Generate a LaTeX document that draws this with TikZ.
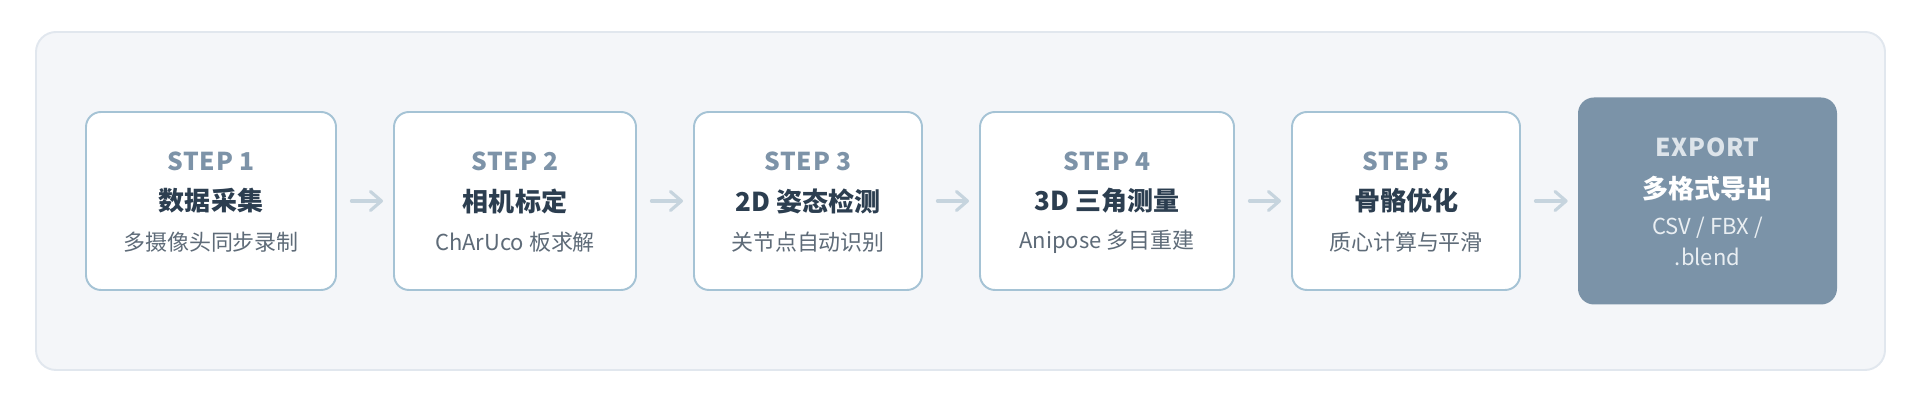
\documentclass[tikz,border=0pt]{standalone}
\usepackage{fontspec}
\setmainfont{Noto Sans CJK SC}
\usepackage{tikz}
\usetikzlibrary{arrows.meta}
\definecolor{panelbg}{HTML}{F4F6F9}
\definecolor{panelline}{HTML}{E1E7EE}
\definecolor{boxline}{HTML}{A5C3D5}
\definecolor{stepgray}{HTML}{7D93A8}
\definecolor{titledark}{HTML}{2C3E50}
\definecolor{descgray}{HTML}{5E6B78}
\definecolor{flowgray}{HTML}{C6D4DE}
\definecolor{exportfill}{HTML}{7B93A8}
\definecolor{exportlbl}{HTML}{DDE4EA}
\definecolor{exportdsc}{HTML}{E9EEF2}
\newcommand\Lift{0.80}
\tikzset{
  stepbox/.style={
    shape = rectangle,
    draw = boxline,
    fill = white,
    line width = 1.1pt,
    rounded corners = 0.3cm,
    minimum height = 3.56cm,
    inner sep = 0pt
  },
  exportbox/.style={
    shape = rectangle,
    fill = exportfill,
    rounded corners = 0.32cm,
    minimum width = 5.18cm,
    minimum height = 4.14cm,
    inner sep = 0pt
  },
  steplbl/.style={
    inner sep = 0pt,
    text = stepgray,
    font = \bfseries\fontsize{14}{16}\selectfont\addfontfeatures{LetterSpace=3}
  },
  stepttl/.style={
    inner sep = 0pt,
    text = titledark,
    font = \bfseries\fontsize{14.8}{17}\selectfont
  },
  stepdsc/.style={
    inner sep = 0pt,
    text = descgray,
    font = \fontsize{12.5}{15}\selectfont
  },
  flow/.style={
    draw = flowgray,
    line width = 1.8pt,
    line cap = round,
    -{Straight Barb[length=0.22cm, width=0.38cm, round]},
    shorten < = 0.29cm,
    shorten > = 0.2cm
  }
}
\begin{document}
\begin{tikzpicture}
    \useasboundingbox (0,0) rectangle (38.48,8.12);
    \draw[panelline, fill=panelbg, line width=1.1pt, rounded corners=0.4cm] (0.72,0.72) rectangle (37.70,7.48);

    % pipeline boxes
    \node[stepbox, minimum width=5.00cm] (b1) at (4.22,4.10) {};
    \node[stepbox, minimum width=4.84cm] (b2) at (10.30,4.10) {};
    \node[stepbox, minimum width=4.56cm] (b3) at (16.16,4.10) {};
    \node[stepbox, minimum width=5.08cm] (b4) at (22.14,4.10) {};
    \node[stepbox, minimum width=4.56cm] (b5) at (28.12,4.10) {};
    \node[exportbox] (ex) at (34.15,4.10) {};

    \node[steplbl] (s1) at ([yshift=\Lift cm]b1.center) {STEP 1};
    \node[stepttl] (t1) at (b1.center) {数据采集};
    \node[stepdsc] (d1) at ([yshift=-0.82cm]b1.center) {多摄像头同步录制};

    \node[steplbl] (s2) at ([yshift=\Lift cm]b2.center) {STEP 2};
    \node[stepttl] (t2) at (b2.center) {相机标定};
    \node[stepdsc] (d2) at ([yshift=-0.82cm]b2.center) {ChArUco 板求解};

    \node[steplbl] (s3) at ([yshift=\Lift cm]b3.center) {STEP 3};
    \node[stepttl] (t3) at (b3.center) {2D 姿态检测};
    \node[stepdsc] (d3) at ([yshift=-0.82cm]b3.center) {关节点自动识别};

    \node[steplbl] (s4) at ([yshift=\Lift cm]b4.center) {STEP 4};
    \node[stepttl] (t4) at (b4.center) {3D 三角测量};
    \node[stepdsc] (d4) at ([yshift=-0.82cm]b4.center) {Anipose 多目重建};

    \node[steplbl] (s5) at ([yshift=\Lift cm]b5.center) {STEP 5};
    \node[stepttl] (t5) at (b5.center) {骨骼优化};
    \node[stepdsc] (d5) at ([yshift=-0.82cm]b5.center) {质心计算与平滑};

    \node[steplbl, text=exportlbl] (s6) at ([yshift=1.08cm]ex.center) {EXPORT};
    \node[stepttl, text=white] (t6) at ([yshift=0.25cm]ex.center) {多格式导出};
    \node[stepdsc, text=exportdsc] (d6a) at ([yshift=-0.54cm]ex.center) {CSV / FBX /};
    \node[stepdsc, text=exportdsc] (d6b) at ([yshift=-1.12cm]ex.center) {.blend};

    % arrows
    \draw[flow] (b1) -- (b2);
    \draw[flow] (b2) -- (b3);
    \draw[flow] (b3) -- (b4);
    \draw[flow] (b4) -- (b5);
    \draw[flow] (b5) -- (ex);
\end{tikzpicture}
\end{document}
